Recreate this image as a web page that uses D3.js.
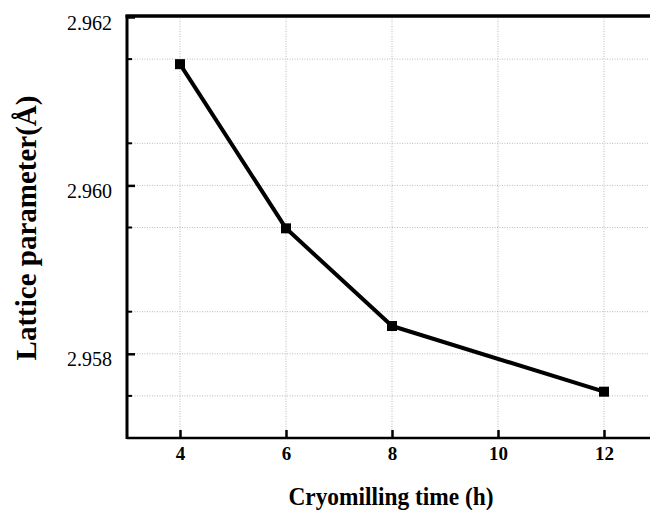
<!DOCTYPE html>
<html>
<head>
<meta charset="utf-8">
<script src="https://cdn.jsdelivr.net/npm/d3@7"></script>
<style>
  body { margin: 0; background: #fff; }
  svg { display: block; font-family: "Liberation Serif", "Times New Roman", serif; }
  .grid line { stroke: #bbb; stroke-width: 1; stroke-dasharray: 1,1.5; }
</style>
</head>
<body>
<div id="chart"></div>
<script>
// data
const hours = [4, 6, 8, 12];
const lattice = [2.96144, 2.95949, 2.95833, 2.95755];
const xTicks = [4, 6, 8, 10, 12];
const yTicks = [2.958, 2.960, 2.962];
const yMinor = [2.9575, 2.9585, 2.9595, 2.9605, 2.9615];

const width = 650, height = 510;
const plotLeft = 127, plotTop = 16, plotBottom = 438;
const serif = '"Liberation Serif", "Times New Roman", serif';

const svg = d3.select('#chart').append('svg')
    .attr('width', width)
    .attr('height', height);

const x = d3.scaleLinear().domain([3, 13]).range([plotLeft, plotLeft + 530]);
const y = d3.scaleLinear().domain([2.957, 2.962]).range([plotBottom, plotTop + 1]);

const gridRight = 648;

// grid
const grid = svg.append('g').attr('class', 'grid');
grid.selectAll('.gx').data(xTicks).enter().append('line')
    .attr('x1', d => x(d)).attr('x2', d => x(d))
    .attr('y1', plotTop).attr('y2', plotBottom);
grid.selectAll('.gy').data(yTicks.concat(yMinor)).enter().append('line')
    .attr('x1', plotLeft).attr('x2', gridRight)
    .attr('y1', d => y(d)).attr('y2', d => y(d));

// axes
const xAxis = d3.axisBottom(x).tickValues(xTicks).tickSizeInner(-8).tickSizeOuter(0).tickPadding(9);
const yAxis = d3.axisLeft(y).tickValues(yTicks).tickFormat(d3.format('.3f')).tickSizeInner(-8).tickSizeOuter(0).tickPadding(15);

const gx = svg.append('g')
    .attr('transform', 'translate(0,' + plotBottom + ')')
    .call(xAxis)
    .attr('font-family', serif)
    .attr('font-size', 19)
    .attr('font-weight', 'bold');
gx.select('.domain').attr('stroke', '#000').attr('stroke-width', 2.5)
    .attr('d', 'M' + plotLeft + ',0H' + width);
gx.selectAll('.tick line').attr('stroke', '#000').attr('stroke-width', 2.5);
gx.selectAll('.tick text').attr('fill', '#000');

const gy = svg.append('g')
    .attr('transform', 'translate(' + plotLeft + ',0)')
    .call(yAxis)
    .attr('font-family', serif)
    .attr('font-size', 20);
gy.select('.domain').attr('stroke', '#000').attr('stroke-width', 3)
    .attr('d', 'M0,' + (plotTop - 1) + 'V' + (plotBottom + 1));
gy.selectAll('.tick line').attr('stroke', '#000').attr('stroke-width', 2.5);
gy.selectAll('.tick text')
    .attr('fill', '#000')
    .attr('dy', '0.6em');

// minor y ticks
gy.selectAll('.minor').data(yMinor).enter().append('line')
    .attr('x1', 0).attr('x2', 5)
    .attr('y1', d => y(d)).attr('y2', d => y(d))
    .attr('stroke', '#000').attr('stroke-width', 2);

// top border
svg.append('line')
    .attr('x1', plotLeft - 1.5).attr('x2', width)
    .attr('y1', plotTop).attr('y2', plotTop)
    .attr('stroke', '#000').attr('stroke-width', 3.5);

// series
const pts = hours.map((h, i) => [h, lattice[i]]);
svg.append('path')
    .datum(pts)
    .attr('fill', 'none')
    .attr('stroke', '#000')
    .attr('stroke-width', 4)
    .attr('stroke-linejoin', 'round')
    .attr('d', d3.line().x(d => x(d[0])).y(d => y(d[1])));

svg.selectAll('.pt').data(pts).enter().append('rect')
    .attr('x', d => x(d[0]) - 5)
    .attr('y', d => y(d[1]) - 5)
    .attr('width', 10).attr('height', 10)
    .attr('fill', '#000');

// axis titles
svg.append('text')
    .attr('transform', 'translate(391,505) scale(0.9,1)')
    .attr('text-anchor', 'middle')
    .attr('font-family', serif)
    .attr('font-size', 26)
    .attr('font-weight', 'bold')
    .text('Cryomilling time (h)');

svg.append('text')
    .attr('transform', 'translate(36,228) rotate(-90)')
    .attr('text-anchor', 'middle')
    .attr('font-family', serif)
    .attr('font-size', 29)
    .attr('font-weight', 'bold')
    .text('Lattice parameter(Å)');
</script>
</body>
</html>
